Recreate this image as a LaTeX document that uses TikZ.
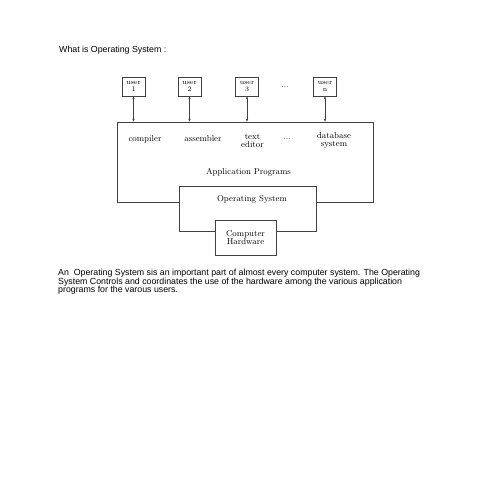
\documentclass[tikz,border=0pt]{standalone}
\usepackage{fontspec}
\newfontfamily\arial{Liberation Sans}
\usetikzlibrary{arrows.meta}
\begin{document}
\begin{tikzpicture}[x=1pt,y=-1pt,
  box/.style={draw=black!75,line width=0.7pt,fill=white,inner sep=0pt},
  ubox/.style={box,minimum width=23pt,minimum height=19pt,font=\fontsize{7}{7}\selectfont,align=center},
  lbl/.style={font=\fontsize{8.6}{8}\selectfont,align=center,inner sep=0pt},
  para/.style={font=\arial\fontsize{8.8}{9}\selectfont,anchor=west,inner sep=0pt},
  link/.style={draw=black!75,line width=0.6pt,{Stealth[length=3pt,width=2.4pt]}-{Stealth[length=3pt,width=2.4pt]}}]
\useasboundingbox[fill=white] (0,0) rectangle (495,495);
\node[para] (title) at (59,50) {What is Operating System :};
% users
\node[ubox] (u1) at (133.5,86.5) {user\\1};
\node[ubox] (u2) at (189.5,86.5) {user\\2};
\node[ubox] (u3) at (247,86.5) {user\\3};
\node[ubox] (un) at (325,86.5) {user\\n};
\node[lbl] (udots) at (285,87) {...};
% main box
\node[box,fill=none,minimum width=256pt,minimum height=80pt] (app) at (245,162) {};
\node[box,minimum width=137pt,minimum height=45pt] (os) at (247.5,208.5) {};
\node[box,minimum width=61pt,minimum height=35pt,lbl] (hw) at (245.5,237.5) {Computer\\Hardware};
\node[lbl] (ostxt) at (252,199) {Operating System};
% links
\foreach \u in {u1,u2,u3,un}{
  \draw[link] (\u.south) -- (\u.south |- app.north);
}
% program labels
\node[lbl] (comp) at (145,139) {compiler};
\node[lbl] (asm) at (203,139) {assembler};
\node[lbl] (ted) at (252.5,140.5) {text\\editor};
\node[lbl] (pdots) at (287,139) {...};
\node[lbl] (db) at (334,140.5) {database\\system};
\node[lbl] (apptxt) at (248.5,172) {Application Programs};
% paragraph
\node[para] (p1) at (58,273) {An\ \ Operating System sis an important part of almost every computer system. The Operating};
\node[para] (p2) at (58,282) {System Controls and coordinates the use of the hardware among the various application};
\node[para] (p3) at (58,290.5) {programs for the varous users.};
\end{tikzpicture}
\end{document}
